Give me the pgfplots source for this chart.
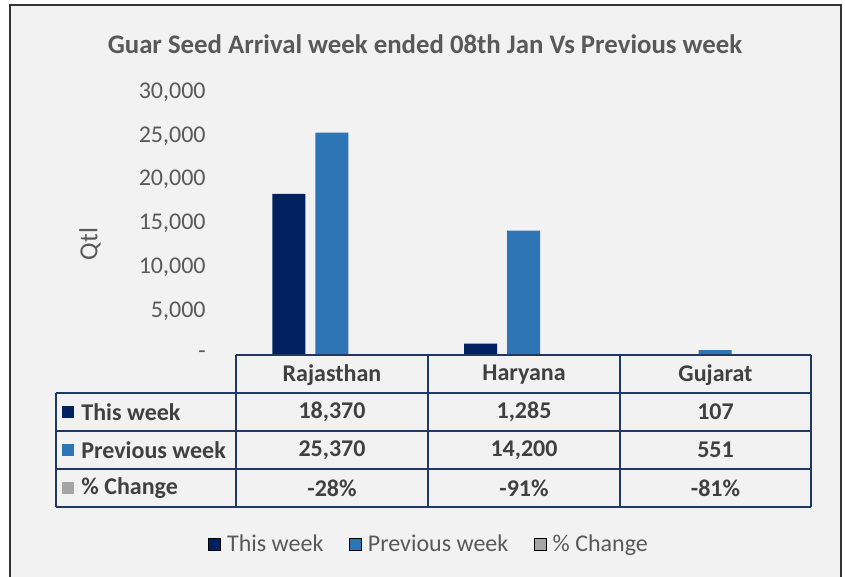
\documentclass[border=0pt]{standalone}
\usepackage{pgfplots}
\pgfplotsset{compat=1.18}
\usepackage{fontspec}
\setmainfont{Carlito}
\definecolor{thiswk}{HTML}{002060}
\definecolor{prevwk}{HTML}{2E75B6}
\definecolor{chg}{HTML}{A5A5A5}
\definecolor{tline}{HTML}{1F3864}
\definecolor{bg}{HTML}{F2F2F2}
\definecolor{txt}{HTML}{595959}
\definecolor{tbl}{HTML}{404040}

\begin{document}
\begin{tikzpicture}[font=\fontsize{12}{14}\selectfont]
% background and titles, in pixel units of the reference
\begin{scope}[x=0.5pt,y=-0.5pt]
  \useasboundingbox (0,0) rectangle (845,577);
  \clip (0,0) rectangle (845,577);
  \draw[fill=bg, draw=black!80, line width=1pt] (10,5) rectangle (841,620);
  \node[text=txt, font=\bfseries\fontsize{13.4}{15}\selectfont] at (425,44)
    {Guar Seed Arrival week ended 08th Jan Vs Previous week};
  \node[text=txt, rotate=90, font=\fontsize{13}{15}\selectfont] at (90,244) {Qtl};
\end{scope}

\begin{axis}[
  at={(118pt,-177.5pt)}, anchor=south west,
  scale only axis, width=287.5pt, height=131.5pt,
  ybar=5pt, bar width=16.5pt,
  xmin=0.5, xmax=3.5, ymin=0, ymax=30000,
  xtick=\empty,
  ytick={0,5000,10000,15000,20000,25000,30000},
  scaled y ticks=false,
  yticklabels={{-\hspace{5pt}},{5,000},{10,000},{15,000},{20,000},{25,000},{30,000}},
  axis line style={draw=none},
  major tick length=0pt,
  yticklabel style={text=txt, anchor=east, inner sep=0pt, xshift=-15pt},
  legend columns=3,
  legend image code/.code={\draw[#1] (0pt,-3pt) rectangle (6pt,3pt); \path (7.5pt,0pt);},
  legend style={at={(axis description cs:0.337,-0.722)}, anchor=center,
    draw=none, fill=none, text=txt,
    nodes={inner sep=1.75pt},
    /tikz/every even column/.append style={column sep=11pt}},
]
\addplot[fill=thiswk, draw=none] coordinates {(1,18370) (2,1285) (3,107)};
\addplot[fill=prevwk, draw=none] coordinates {(1,25370) (2,14200) (3,551)};
\addplot[fill=chg, draw=none] coordinates {(1,-0.28) (2,-0.91) (3,-0.81)};
\legend{This week, Previous week, \% Change}
\end{axis}

% data table below the plot
\begin{scope}[x=0.5pt,y=-0.5pt, every node/.style={text=tbl, font=\bfseries\fontsize{12}{14}\selectfont}]
  \draw[tline, line width=1pt]
    (236,355) -- (811,355)
    (56,393) -- (811,393)
    (56,431) -- (811,431)
    (56,469) -- (811,469)
    (56,507) -- (811,507)
    (56,393) -- (56,507)
    (236,355) -- (236,507)
    (428,355) -- (428,507)
    (620,355) -- (620,507)
    (811,355) -- (811,507);
  \node at (332,375) {Rajasthan};
  \node at (524,375) {Haryana};
  \node at (715.5,375) {Gujarat};
  \fill[thiswk] (62,406) rectangle (74,418);
  \fill[prevwk] (62,444) rectangle (74,456);
  \fill[chg] (62,482) rectangle (74,494);
  \node[anchor=west, inner sep=0pt] at (81,412) {This week};
  \node[anchor=west, inner sep=0pt] at (81,450) {Previous week};
  \node[anchor=west, inner sep=0pt] at (81,488) {\% Change};
  \node at (332,412) {18,370};
  \node at (524,412) {1,285};
  \node at (715.5,412) {107};
  \node at (332,450) {25,370};
  \node at (524,450) {14,200};
  \node at (715.5,450) {551};
  \node at (332,488) {-28\%};
  \node at (524,488) {-91\%};
  \node at (715.5,488) {-81\%};
\end{scope}
\end{tikzpicture}
\end{document}
